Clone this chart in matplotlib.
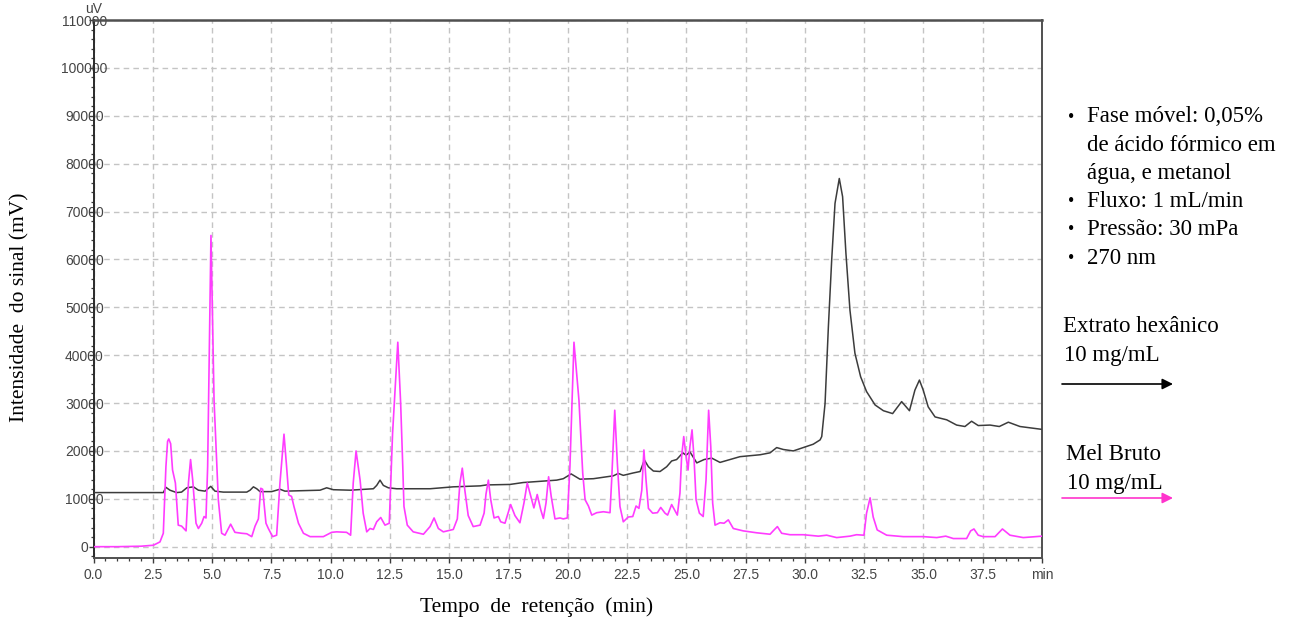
import matplotlib
matplotlib.use('Agg')
import matplotlib.pyplot as plt
import matplotlib.ticker as mticker

# Mel Bruto 10 mg/mL (magenta trace): retention time (min), signal (uV)
mel_t = [0.0, 1.0, 2.0, 2.52, 2.80, 2.94, 3.05, 3.12, 3.17, 3.25, 3.33, 3.45, 3.57, 3.71,
         3.90, 4.00, 4.09, 4.18, 4.32, 4.42, 4.56, 4.66, 4.74, 4.81, 4.95, 5.08, 5.26, 5.40,
         5.54, 5.78, 5.96, 6.25, 6.46, 6.67, 6.81, 6.95, 7.05, 7.13, 7.27, 7.37, 7.55, 7.72,
         7.86, 8.03, 8.14, 8.23, 8.35, 8.45, 8.64, 8.85, 9.13, 9.69, 10.04, 10.25, 10.67,
         10.84, 10.95, 11.07, 11.24, 11.37, 11.52, 11.66, 11.80, 11.94, 12.11, 12.29, 12.47,
         12.61, 12.83, 12.95, 13.04, 13.09, 13.23, 13.48, 13.91, 14.19, 14.36, 14.54, 14.75,
         15.17, 15.34, 15.45, 15.55, 15.66, 15.80, 16.01, 16.30, 16.47, 16.55, 16.65, 16.75,
         16.89, 17.07, 17.17, 17.35, 17.59, 17.77, 17.98, 18.15, 18.29, 18.44, 18.57, 18.71,
         18.86, 18.97, 19.08, 19.19, 19.30, 19.46, 19.67, 19.81, 19.98, 20.09, 20.26, 20.47,
         20.63, 20.73, 20.87, 21.01, 21.22, 21.50, 21.78, 21.85, 21.98, 22.09, 22.20, 22.34,
         22.55, 22.74, 22.88, 23.00, 23.12, 23.21, 23.30, 23.40, 23.58, 23.78, 23.92, 24.10,
         24.21, 24.38, 24.49, 24.62, 24.73, 24.80, 24.89, 24.99, 25.07, 25.15, 25.24, 25.32,
         25.41, 25.55, 25.71, 25.83, 25.94, 26.03, 26.11, 26.21, 26.42, 26.59, 26.77, 26.98,
         27.40, 27.97, 28.53, 28.70, 28.84, 29.02, 29.37, 29.93, 30.57, 30.92, 31.34, 31.90,
         32.18, 32.49, 32.60, 32.75, 32.88, 33.05, 33.45, 34.15, 35.00, 35.56, 35.94, 36.26,
         36.82, 36.99, 37.13, 37.31, 37.52, 38.02, 38.33, 38.65, 39.21, 40.0]
mel_v = [0, 0, 100, 300, 1000, 2800, 16700, 22000, 22500, 21500, 16000, 13300, 4500, 4300,
         3300, 13300, 18200, 13900, 4900, 3800, 4900, 6300, 6000, 16700, 65000, 30600, 9800, 2800,
         2400, 4700, 3000, 2800, 2700, 2100, 4300, 5800, 12200, 12000, 4900, 3800, 2100, 2400,
         13300, 23500, 16700, 10800, 10500, 8400, 4900, 2800, 2100, 2100, 3000, 3100, 3000,
         2400, 13300, 20000, 13900, 7000, 3100, 3800, 3600, 5200, 6100, 4500, 4900,
         23700, 42700, 30000, 16700, 8400, 4500, 3100, 2600, 4200, 6000, 3800, 3100,
         3600, 5800, 13300, 16400, 11700, 6500, 4200, 4500, 7000, 11000, 13900, 9800,
         6000, 6300, 5200, 4900, 8800, 6500, 5000, 9100, 13300, 10500, 8100, 10900,
         7700, 5900, 9100, 14600, 10500, 5800, 6000, 5800, 6000, 16700, 42700, 30600,
         15300, 9800, 8500, 6600, 7100, 7300, 7100, 13900, 28500, 17400, 8400, 5200,
         6200, 6300, 8500, 8000, 11800, 20200, 13900, 8000, 7000, 7100, 8200, 7000,
         6600, 8800, 7800, 6600, 11200, 18800, 23000, 18800, 16000, 20900, 24400, 18800,
         9800, 7000, 6300, 13900, 28500, 20900, 9100, 4500, 5000, 4900, 5600, 3800,
         3300, 2900, 2600, 3500, 4200, 2800, 2500, 2500, 2200, 2400, 1900, 2200,
         2500, 2400, 7000, 10200, 6200, 3500, 2400, 2100, 2100, 1900, 2200, 1700,
         1700, 3300, 3700, 2400, 2100, 2100, 3700, 2400, 1900, 2200]

# Extrato hexanico 10 mg/mL (black trace)
hex_t = [0.0, 2.94, 3.05, 3.22, 3.50, 3.71, 3.93, 4.21, 4.42, 4.70, 4.94, 5.12, 5.47, 6.46,
         6.60, 6.74, 6.88, 7.02, 7.51, 7.86, 8.07, 9.55, 9.83, 10.11, 10.82, 11.80, 11.94,
         12.08, 12.22, 12.43, 12.78, 14.19, 15.17, 16.30, 16.58, 17.56, 18.12, 18.97, 19.53,
         19.81, 20.14, 20.51, 21.08, 21.92, 22.13, 22.34, 22.76, 23.05, 23.23, 23.40, 23.61,
         23.89, 24.17, 24.38, 24.59, 24.85, 24.99, 25.15, 25.29, 25.44, 25.75, 26.07, 26.42,
         26.84, 27.26, 28.11, 28.53, 28.81, 29.09, 29.51, 29.93, 30.35, 30.64, 30.71, 30.85,
         30.99, 31.13, 31.27, 31.45, 31.59, 31.73, 31.90, 32.11, 32.35, 32.60, 32.96, 33.31,
         33.70, 34.08, 34.41, 34.64, 34.83, 34.99, 35.20, 35.49, 35.98, 36.40, 36.75, 37.03,
         37.31, 37.81, 38.20, 38.58, 39.07, 40.0]
hex_v = [11300, 11300, 12400, 11800, 11300, 11400, 12300, 12500, 11800, 11600, 12600, 11600,
         11400, 11400, 11800, 12500, 12100, 11500, 11500, 12000, 11600, 11800, 12300, 11900,
         11800, 12100, 12800, 13900, 12800, 12300, 12100, 12100, 12500, 12700, 12900, 13000,
         13400, 13700, 13900, 14200, 15200, 14100, 14200, 14800, 15300, 14900, 15400, 15700,
         18100, 16700, 15800, 15700, 16700, 17900, 18200, 19600, 19100, 19800, 18700, 17500,
         18200, 18500, 17600, 18200, 18800, 19200, 19600, 20700, 20300, 20000, 20700, 21400,
         22300, 23000, 29900, 45900, 59900, 71700, 76900, 73100, 61300, 49400, 40400, 35500,
         32400, 29600, 28400, 27800, 30300, 28400, 32700, 34800, 32700, 29200, 27100, 26500,
         25400, 25100, 26200, 25300, 25400, 25100, 26000, 25100, 24500]

x_ticks = [0.0, 2.5, 5.0, 7.5, 10.0, 12.5, 15.0, 17.5, 20.0, 22.5, 25.0, 27.5, 30.0,
           32.5, 35.0, 37.5, 40.0]
x_tick_labels = ['0.0', '2.5', '5.0', '7.5', '10.0', '12.5', '15.0', '17.5', '20.0',
                 '22.5', '25.0', '27.5', '30.0', '32.5', '35.0', '37.5', 'min']
y_ticks = [0, 10000, 20000, 30000, 40000, 50000, 60000, 70000, 80000, 90000, 100000, 110000]

notes = ['Fase móvel: 0,05%', 'de ácido fórmico em', 'água, e metanol',
         'Fluxo: 1 mL/min', 'Pressão: 30 mPa', '270 nm']
note_bullet = [True, False, False, True, True, True]

MAGENTA = '#ff3cff'
DARK = '#3c3c3c'
TICK = '#454545'
W, H = 1302, 622

fig = plt.figure(figsize=(W / 100, H / 100), dpi=100)
ax = fig.add_axes([93.6 / W, 1 - 557.7 / H, 948.4 / W, 537.7 / H])

ax.plot(hex_t, hex_v, color=DARK, lw=1.1, zorder=3)
ax.plot(mel_t, mel_v, color=MAGENTA, lw=1.2, zorder=4)

ax.set_xlim(0, 40)
ax.set_ylim(-2300, 110000)
ax.set_xticks(x_ticks)
ax.set_xticklabels(x_tick_labels)
ax.set_yticks(y_ticks)
ax.set_yticklabels([str(v) for v in y_ticks])
ax.xaxis.set_minor_locator(mticker.MultipleLocator(0.5))
ax.yaxis.set_minor_locator(mticker.MultipleLocator(2000))

ax.grid(True, which='major', color='#c4c4c4', linestyle=(0, (4, 3)), lw=1.0, zorder=0)
ax.tick_params(which='major', length=3.6, width=1.0, color=DARK,
               labelsize=10, labelcolor=TICK)
ax.tick_params(which='minor', length=2.2, width=0.9, color=DARK)
ax.tick_params(axis='x', pad=3.5)
ax.tick_params(axis='y', pad=3.0)
for lab in ax.get_yticklabels():
    lab.set_horizontalalignment('center')
    lab.set_fontfamily('Liberation Sans')
for lab in ax.get_xticklabels():
    lab.set_fontfamily('Liberation Sans')

for side, lw in [('left', 1.4), ('bottom', 1.4), ('top', 1.8), ('right', 1.4)]:
    ax.spines[side].set_linewidth(lw)
    ax.spines[side].set_color('#505050')
ax.spines['left'].set_color('#2a2a2a')

ax.annotate('uV', xy=(0, 1.0), xycoords='axes fraction', xytext=(0, 3.2),
            textcoords='offset points', ha='center', va='bottom',
            fontsize=10, color=TICK, family='Liberation Sans')

serif = 'Liberation Serif'
fig.text(20 / W, 1 - 307 / H, 'Intensidade  do sinal (mV)', rotation=90,
         ha='center', va='center', fontsize=15.5, family=serif)
fig.text(537 / W, 1 - 607 / H, 'Tempo  de  retenção  (min)',
         ha='center', va='center', fontsize=15.5, family=serif)

for i, (line, bullet) in enumerate(zip(notes, note_bullet)):
    y = 1 - (117 + i * 28.2) / H
    if bullet:
        fig.text(1071 / W, y, '•', ha='center', va='center', fontsize=13, family=serif)
    fig.text(1087 / W, y, line, ha='left', va='center', fontsize=16.5, family=serif)

fig.text(1063 / W, 1 - 327 / H, 'Extrato hexânico', ha='left', va='center',
         fontsize=16.5, family=serif)
fig.text(1064 / W, 1 - 355 / H, '10 mg/mL', ha='left', va='center',
         fontsize=16.5, family=serif)
fig.text(1066 / W, 1 - 455 / H, 'Mel Bruto', ha='left', va='center',
         fontsize=16.5, family=serif)
fig.text(1067 / W, 1 - 483 / H, '10 mg/mL', ha='left', va='center',
         fontsize=16.5, family=serif)

for y, c in [(384, 'black'), (498, '#ff33cc')]:
    ax.annotate('', xy=(1173 / W, 1 - y / H), xytext=(1062 / W, 1 - y / H),
                xycoords='figure fraction', textcoords='figure fraction',
                arrowprops=dict(arrowstyle='-|>', color=c, lw=1.2,
                                mutation_scale=16, shrinkA=0, shrinkB=0))

fig.savefig('out.png', dpi=100, facecolor='white')
